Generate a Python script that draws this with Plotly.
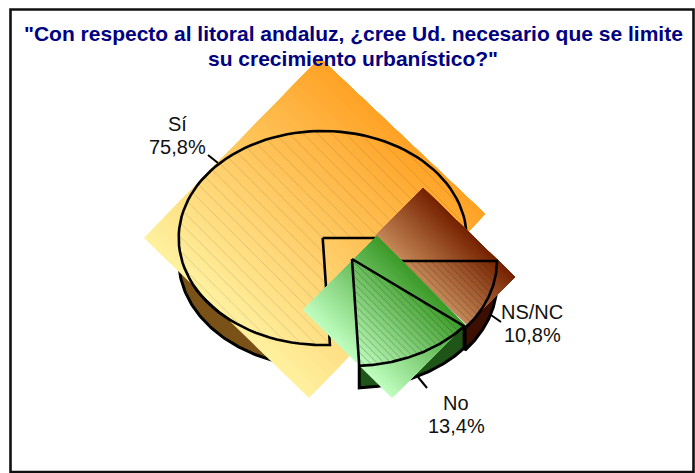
import numpy as np
import plotly.graph_objects as go

categories = ["Sí", "NS/NC", "No"]
values = [75.8, 10.8, 13.4]

title_lines = ['"Con respecto al litoral andaluz, ¿cree Ud. necesario que se limite',
               'su crecimiento urbanístico?"']

RX, RY, DEPTH = 144, 107, 22
centers = {"Sí": (322.7, 238), "NS/NC": (353, 261), "No": (352, 259)}
side_colors = {"Sí": "#7a5218", "NS/NC": "#3d0f00", "No": "#1f5518"}
hatch_size = {"Sí": 10, "NS/NC": 5, "No": 5}
hatch_solidity = {"Sí": 0.04, "NS/NC": 0.16, "No": 0.16}
diamonds = {
    "Sí": [(320, 58), (485, 214), (309, 398), (144, 238)],
    "NS/NC": [(423, 188), (515, 277), (467, 325), (375, 236)],
    "No": [(377, 236), (465, 325), (392, 398), (303, 310)],
}
gradients = {
    "Sí": ((255, 241, 160), (255, 163, 38)),
    "NS/NC": ((198, 138, 88), (118, 34, 0)),
    "No": ((192, 255, 192), (60, 155, 40)),
}
label_pos = {"Sí": (177, 124), "NS/NC": (532, 312), "No": (456, 403)}
leaders = {"Sí": ((208, 155), (218, 163)), "NS/NC": ((491, 315), (501, 322)), "No": ((418, 377), (427, 388))}

# slice angles from the values: Sí runs counter-clockwise from 3 o'clock, the others clockwise
total = sum(values)
sweep = {c: v / total * 360 for c, v in zip(categories, values)}
angles = {
    "Sí": (0, sweep["Sí"]),
    "NS/NC": (0, -sweep["NS/NC"]),
    "No": (-sweep["NS/NC"], -sweep["NS/NC"] - sweep["No"]),
}


def arc(c, a0, a1, dy=0, n=90):
    cx, cy = centers[c]
    th = np.radians(np.linspace(a0, a1, n))
    return cx + RX * np.cos(th), cy - RY * np.sin(th) + dy


fig = go.Figure()
common = dict(mode="lines", hoverinfo="skip", showlegend=False)


def add_side(c, a0, a1):
    xt, yt = arc(c, a0, a1)
    xb, yb = arc(c, a0, a1, DEPTH)
    fig.add_trace(go.Scatter(x=np.r_[xt, xb[::-1], xt[0]], y=np.r_[yt, yb[::-1], yt[0]], fill="toself",
                             fillcolor=side_colors[c], line=dict(color="black", width=3), **common))


def add_diamond(c, bands=44):
    A, B, C, D = [np.array(p, float) for p in diamonds[c]]
    lo, hi = [np.array(g, float) for g in gradients[c]]
    for k in range(bands):
        t = k / bands
        col = lo + (hi - lo) * (k + 0.5) / bands
        P = D + t * (A - D)
        Q = C + t * (B - C)
        xs = [P[0], A[0], B[0], Q[0], P[0]]
        ys = [P[1], A[1], B[1], Q[1], P[1]]
        fig.add_trace(go.Scatter(x=xs, y=ys, fill="toself",
                                 fillcolor="rgb(%d,%d,%d)" % tuple(col),
                                 line=dict(width=0), **common))


def add_wedge(c):
    a0, a1 = angles[c]
    cx, cy = centers[c]
    xa, ya = arc(c, a0, a1)
    xs = np.r_[cx, xa, cx]
    ys = np.r_[cy, ya, cy]
    fig.add_trace(go.Scatter(x=xs, y=ys, fill="toself", fillcolor="rgba(0,0,0,0)",
                             fillpattern=dict(shape="\\", size=hatch_size[c], solidity=hatch_solidity[c],
                                              fgcolor="rgba(30,25,15,0.7)", bgcolor="rgba(0,0,0,0)"),
                             line=dict(color="black", width=2.6), **common))


# extruded sides
add_side("Sí", 180, angles["Sí"][1])
add_side("NS/NC", *angles["NS/NC"])
add_side("No", *angles["No"])

for c in categories:
    add_diamond(c)
    add_wedge(c)

for c in categories:
    (x0, y0), (x1, y1) = leaders[c]
    fig.add_trace(go.Scatter(x=[x0, x1], y=[y0, y1], line=dict(color="black", width=2), **common))

annotations = []
label_font = dict(family="Liberation Sans", size=20, color="#111111")
for c, v in zip(categories, values):
    x, y = label_pos[c]
    annotations.append(dict(x=x, y=y, xref="x", yref="y", showarrow=False, text=c, font=label_font))
    annotations.append(dict(x=x, y=y + 23, xref="x", yref="y", showarrow=False,
                            text=f"{str(v).replace('.', ',')}%", font=label_font))
title_font = dict(family="Liberation Sans", size=21, color="#000080", weight="bold")
for line, y in zip(title_lines, (33, 58)):
    annotations.append(dict(x=353, y=y, xref="x", yref="y", showarrow=False, text=line, font=title_font))

fig.update_layout(
    width=695, height=473, margin=dict(l=0, r=0, t=0, b=0),
    paper_bgcolor="white", plot_bgcolor="white", showlegend=False,
    xaxis=dict(range=[0, 695], visible=False, fixedrange=True),
    yaxis=dict(range=[473, 0], visible=False, fixedrange=True),
    annotations=annotations,
    shapes=[dict(type="rect", xref="x", yref="y", x0=10.5, y0=9.5, x1=693.5, y1=472,
                 line=dict(color="#111111", width=2.6), layer="below")],
)
fig.write_html("out.html", config={"displayModeBar": False},
               post_script="document.body.style.margin='0';document.body.style.overflow='hidden';")
